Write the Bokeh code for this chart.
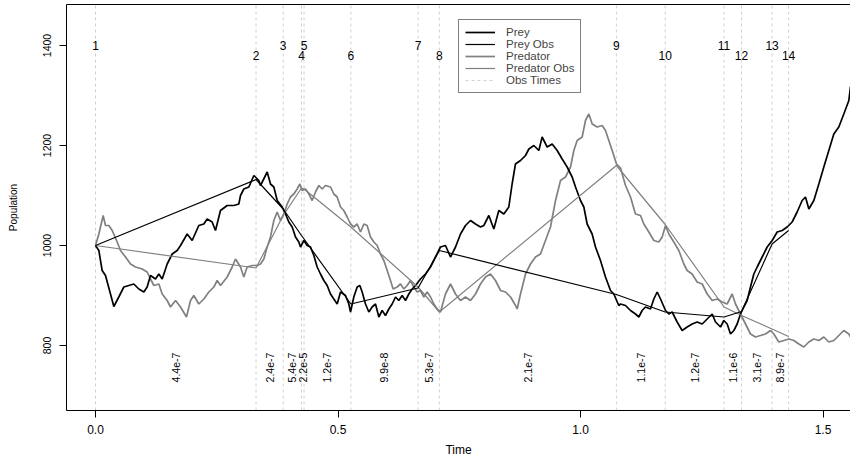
import math
from bokeh.plotting import figure
from bokeh.models import Range1d, FixedTicker, Legend, LegendItem, NumeralTickFormatter, LinearAxis
from bokeh.core.properties import value
from bokeh.embed import file_html
from bokeh.resources import INLINE

# ---------------- data ----------------
prey_path = [
    (0.0, 1000), (0.0069, 990), (0.0137, 950), (0.0206, 940), (0.0309, 903), (0.0378, 878),
    (0.048, 897), (0.0584, 917), (0.0687, 920), (0.079, 923), (0.0893, 913), (0.0997, 907),
    (0.1065, 917), (0.1134, 940), (0.1237, 933), (0.1306, 943), (0.1375, 933), (0.1478, 963),
    (0.1581, 983), (0.1684, 990), (0.1753, 1000), (0.189, 1023), (0.1993, 1010), (0.213, 1040),
    (0.2234, 1043), (0.2302, 1053), (0.2405, 1047), (0.2474, 1030), (0.2577, 1070), (0.2715, 1080),
    (0.2852, 1080), (0.2955, 1083), (0.299, 1100), (0.3058, 1113), (0.3162, 1117), (0.3265, 1140),
    (0.3368, 1130), (0.3402, 1120), (0.354, 1147), (0.3608, 1123), (0.3677, 1117), (0.3746, 1090),
    (0.3849, 1077), (0.3918, 1063), (0.3986, 1047), (0.4055, 1037), (0.4124, 1017), (0.4192, 1007),
    (0.4227, 997), (0.4296, 1010), (0.4364, 1000), (0.4433, 997), (0.4502, 980), (0.457, 957),
    (0.4639, 943), (0.4708, 930), (0.4777, 920), (0.4845, 903), (0.4914, 893), (0.4983, 883),
    (0.5052, 907), (0.5155, 900), (0.5223, 883), (0.5258, 867), (0.5326, 897), (0.5395, 917),
    (0.545, 920), (0.5498, 907), (0.5567, 883), (0.5636, 867), (0.5704, 877), (0.5773, 883),
    (0.5842, 857), (0.591, 870), (0.5979, 860), (0.6048, 873), (0.6117, 883), (0.6186, 897),
    (0.6254, 890), (0.6323, 900), (0.6392, 890), (0.646, 903), (0.6529, 913), (0.6598, 920),
    (0.67, 933), (0.6804, 943), (0.6907, 957), (0.701, 977), (0.7113, 997), (0.7216, 1000),
    (0.732, 977), (0.7423, 997), (0.7526, 1023), (0.7629, 1040), (0.7732, 1050), (0.7835, 1043),
    (0.7938, 1037), (0.8007, 1040), (0.811, 1060), (0.8213, 1033), (0.8316, 1070), (0.8419, 1063),
    (0.8522, 1077), (0.859, 1123), (0.8659, 1163), (0.8763, 1170), (0.8866, 1180), (0.8935, 1193),
    (0.9038, 1200), (0.9141, 1190), (0.9209, 1217), (0.9313, 1197), (0.9416, 1203), (0.9519, 1190),
    (0.9622, 1173), (0.9725, 1157), (0.9828, 1137), (0.9897, 1117), (1.0, 1090), (1.0069, 1077),
    (1.0137, 1043), (1.024, 1023), (1.0309, 997), (1.0412, 970), (1.0515, 937), (1.0619, 910),
    (1.0687, 903), (1.079, 880), (1.0825, 883), (1.0928, 880), (1.1031, 870), (1.1134, 863),
    (1.1203, 857), (1.1271, 870), (1.134, 877), (1.1443, 873), (1.1512, 893), (1.1581, 907),
    (1.165, 893), (1.1753, 870), (1.1821, 863), (1.189, 867), (1.1993, 847), (1.2096, 830),
    (1.2199, 837), (1.2302, 843), (1.2405, 847), (1.2509, 843), (1.2612, 853), (1.2715, 863),
    (1.2784, 847), (1.2887, 837), (1.2955, 850), (1.3024, 843), (1.3093, 823), (1.3162, 830),
    (1.323, 843), (1.3299, 863), (1.3368, 877), (1.3436, 890), (1.3505, 917), (1.3574, 943),
    (1.3643, 957), (1.3746, 977), (1.3849, 997), (1.3952, 1010), (1.4055, 1027), (1.4158, 1030),
    (1.4261, 1037), (1.4364, 1047), (1.4467, 1067), (1.457, 1090), (1.4639, 1097), (1.4708, 1073),
    (1.4811, 1090), (1.4914, 1123), (1.5017, 1157), (1.512, 1190), (1.5223, 1223), (1.5326, 1237),
    (1.5429, 1263), (1.5533, 1290), (1.5567, 1318),
]

predator_path = [
    (0.0, 1000), (0.0069, 1023), (0.0158, 1060), (0.0206, 1040), (0.0275, 1040), (0.0344, 1030),
    (0.0447, 1007), (0.0515, 990), (0.0619, 977), (0.0722, 963), (0.0825, 957), (0.0962, 953),
    (0.1065, 947), (0.1134, 933), (0.1203, 920), (0.1306, 923), (0.1375, 903), (0.1478, 890),
    (0.1546, 877), (0.165, 890), (0.1753, 877), (0.1876, 857), (0.1959, 890), (0.2027, 900),
    (0.213, 883), (0.2234, 893), (0.2337, 907), (0.244, 917), (0.2509, 930), (0.2577, 920),
    (0.2715, 937), (0.2818, 957), (0.2887, 973), (0.299, 957), (0.3058, 937), (0.3127, 957),
    (0.323, 960), (0.3333, 960), (0.3402, 963), (0.3471, 973), (0.354, 997), (0.3608, 1017),
    (0.3677, 1050), (0.3746, 1067), (0.3814, 1050), (0.3883, 1063), (0.3952, 1083), (0.402, 1097),
    (0.4089, 1103), (0.4158, 1113), (0.4213, 1123), (0.4261, 1110), (0.433, 1113), (0.4399, 1103),
    (0.4467, 1090), (0.4536, 1107), (0.4605, 1120), (0.4674, 1113), (0.4742, 1120), (0.4845, 1117),
    (0.4914, 1103), (0.4983, 1097), (0.5052, 1077), (0.512, 1070), (0.5189, 1057), (0.5258, 1043),
    (0.5326, 1037), (0.5395, 1043), (0.5464, 1027), (0.5533, 1043), (0.5601, 1040), (0.567, 1017),
    (0.5739, 1007), (0.5808, 1000), (0.5876, 983), (0.5945, 970), (0.6014, 950), (0.6082, 930),
    (0.6137, 913), (0.6219, 917), (0.6289, 923), (0.6357, 913), (0.6426, 920), (0.6495, 930),
    (0.6564, 917), (0.6632, 907), (0.67, 910), (0.677, 897), (0.6838, 907), (0.6907, 897),
    (0.6976, 883), (0.7045, 873), (0.7113, 867), (0.7216, 903), (0.732, 923), (0.7423, 903),
    (0.7526, 890), (0.7629, 897), (0.7732, 890), (0.7835, 903), (0.7938, 923), (0.8041, 937),
    (0.8144, 943), (0.8247, 930), (0.8351, 910), (0.8454, 907), (0.8557, 897), (0.866, 880),
    (0.8694, 873), (0.8763, 903), (0.8866, 943), (0.8969, 963), (0.9072, 977), (0.9175, 983),
    (0.9278, 1010), (0.9381, 1037), (0.9485, 1090), (0.9588, 1130), (0.9691, 1137), (0.9794, 1157),
    (0.9863, 1190), (0.9931, 1210), (1.0034, 1217), (1.0103, 1250), (1.0172, 1263), (1.0241, 1243),
    (1.0344, 1237), (1.0447, 1240), (1.0515, 1230), (1.0584, 1210), (1.0653, 1190), (1.0742, 1163),
    (1.0825, 1155), (1.0928, 1120), (1.1031, 1097), (1.1134, 1063), (1.1237, 1060), (1.1306, 1043),
    (1.1409, 1027), (1.1512, 1010), (1.1615, 1007), (1.1684, 1017), (1.1753, 1040), (1.1821, 1023),
    (1.1924, 1007), (1.2027, 990), (1.2131, 963), (1.2199, 950), (1.2302, 943), (1.2405, 927),
    (1.2509, 923), (1.2612, 903), (1.2715, 890), (1.2818, 893), (1.2921, 887), (1.3024, 883),
    (1.3127, 903), (1.3196, 883), (1.3299, 863), (1.3402, 843), (1.3505, 823), (1.3608, 817),
    (1.3711, 820), (1.3814, 823), (1.3918, 830), (1.3986, 823), (1.4089, 807), (1.4192, 810),
    (1.4296, 813), (1.4399, 810), (1.4502, 803), (1.4605, 797), (1.4708, 807), (1.4811, 813),
    (1.4914, 810), (1.5017, 817), (1.512, 807), (1.5223, 810), (1.5326, 820), (1.5429, 830),
    (1.5533, 823), (1.5567, 817),
]

obs_time = [0.0, 0.331, 0.387, 0.4247, 0.4300, 0.5265, 0.665, 0.709,
            1.074, 1.1746, 1.296, 1.332, 1.395, 1.429]
prey_obs = [1000, 1132, 1073, 1020, 1013, 883, 915, 990, 902, 867, 857, 868, 1003, 1030]
predator_obs = [1000, 955, 1060, 1115, 1113, 1037, 917, 867, 1160, 1042, 877, 860, 833, 818]
obs_labels = [str(i) for i in range(1, 15)]
interval_probs = ["4.4e-7", "2.4e-7", "5.4e-7", "2.2e-5", "1.2e-7", "9.9e-8", "5.3e-7",
                  "2.1e-7", "1.1e-7", "1.2e-7", "1.1e-6", "3.1e-7", "8.9e-7"]

x_ticks = [0.0, 0.5, 1.0, 1.5]
y_ticks = [800, 1000, 1200, 1400]

# ---------------- figure ----------------
FONT = "Liberation Sans"
X0, X1 = -0.0598, 1.5567
Y0, Y1 = 670, 1482

p = figure(width=850, height=459, output_backend="svg", toolbar_location=None,
           x_range=Range1d(X0, X1), y_range=Range1d(Y0, Y1),
           min_border_left=66, min_border_right=0, min_border_top=4, min_border_bottom=49)
p.grid.visible = False
p.outline_line_color = None
p.background_fill_color = "white"
p.border_fill_color = "white"

prey_t, prey_v = zip(*prey_path)
pred_t, pred_v = zip(*predator_path)

r_obs = p.segment(x0=obs_time, x1=obs_time, y0=[Y0] * len(obs_time), y1=[Y1] * len(obs_time),
                  line_color="#d0d0d0", line_width=1, line_dash="3 3")
r_pred = p.line(list(pred_t), list(pred_v), line_color="#808080", line_width=1.7)
r_prey = p.line(list(prey_t), list(prey_v), line_color="black", line_width=1.7)
r_pred_obs = p.line(obs_time, predator_obs, line_color="#808080", line_width=1.2)
r_prey_obs = p.line(obs_time, prey_obs, line_color="black", line_width=1.2)

# observation numbers at top (alternating height)
label_y = [1400 if i % 2 == 0 else 1381 for i in range(len(obs_time))]
p.text(x=obs_time, y=label_y, text=obs_labels, text_font=value(FONT), text_font_size="12px",
       text_align="center", text_baseline="middle", text_color="black")

# interval probabilities (rotated) at interval midpoints
mids = [(a + b) / 2 for a, b in zip(obs_time[:-1], obs_time[1:])]
p.text(x=mids, y=[756] * len(mids), text=interval_probs, angle=math.pi / 2,
       text_font=value(FONT), text_font_size="10.5px", text_align="center",
       text_baseline="middle", text_color="black")

# axes
xax = p.below[0]
yax = p.left[0]
for ax in (xax, yax):
    ax.axis_line_color = "black"
    ax.major_tick_line_color = "black"
    ax.major_tick_out = 7
    ax.major_tick_in = 0
    ax.minor_tick_line_color = None
    ax.major_label_text_font = FONT
    ax.axis_label_text_font = FONT
    ax.axis_label_text_font_style = "normal"
    ax.major_label_text_color = "black"
    ax.axis_label_text_color = "black"

xax.ticker = FixedTicker(ticks=x_ticks)
xax.formatter = NumeralTickFormatter(format="0.0")
xax.major_label_text_font_size = "12px"
xax.axis_label = "Time"
xax.axis_label_text_font_size = "12px"
xax.major_label_standoff = 7
xax.axis_label_standoff = 6

yax.ticker = FixedTicker(ticks=y_ticks)
yax.formatter = NumeralTickFormatter(format="0")
yax.major_label_orientation = "vertical"
yax.major_label_text_font_size = "10.5px"
yax.axis_label = "Population"
yax.axis_label_text_font_size = "10px"
yax.major_label_standoff = 9
yax.axis_label_standoff = 21

# top border as a bare axis
top_axis = LinearAxis(ticker=FixedTicker(ticks=[]), major_tick_out=0, major_tick_in=0,
                      minor_tick_out=0, minor_tick_in=0, major_label_standoff=0,
                      major_label_text_font_size="0px", axis_line_color="black")
p.add_layout(top_axis, "above")

legend = Legend(items=[
    LegendItem(label="Prey", renderers=[r_prey]),
    LegendItem(label="Prey Obs", renderers=[r_prey_obs]),
    LegendItem(label="Predator", renderers=[r_pred]),
    LegendItem(label="Predator Obs", renderers=[r_pred_obs]),
    LegendItem(label="Obs Times", renderers=[r_obs]),
], location=(392, 317))
legend.border_line_color = "black"
legend.border_line_width = 1
legend.background_fill_alpha = 1
legend.padding = 6
legend.spacing = 0
legend.margin = 0
legend.label_height = 12
legend.glyph_height = 12
legend.glyph_width = 30
legend.label_standoff = 11
legend.label_text_font = FONT
legend.label_text_font_size = "11.5px"
legend.label_text_line_height = 1.0
p.add_layout(legend)

open("out.html", "w").write(file_html(p, INLINE, title="Prey / Predator"))
